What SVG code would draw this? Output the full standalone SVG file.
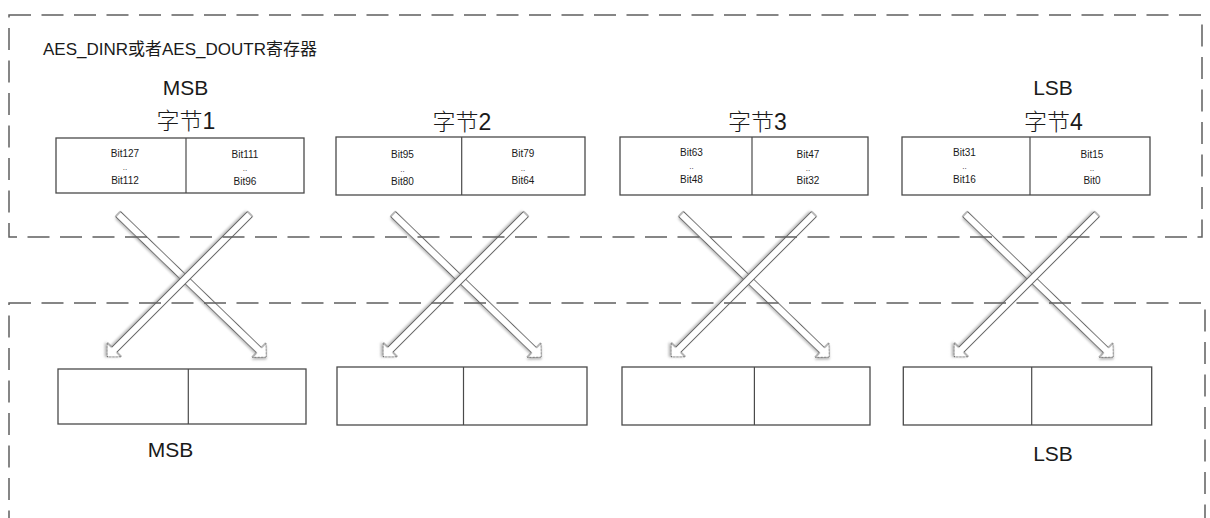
<svg xmlns="http://www.w3.org/2000/svg" xmlns:xlink="http://www.w3.org/1999/xlink" width="1210" height="518" viewBox="0 0 1210 518">
<style>
.bg{fill:#ffffff}
.dash{fill:none;stroke:#5f5f5f;stroke-width:1.5;stroke-dasharray:22 10.5}
.box{fill:#ffffff;stroke:#4a4a4a;stroke-width:1.3}
.div{stroke:#4a4a4a;stroke-width:1.2}
.t{font-family:"Liberation Sans","Noto Sans CJK SC",sans-serif;fill:#1a1a1a}
.cj{font-family:"Liberation Sans","Noto Sans CJK SC",sans-serif;fill:#1a1a1a;font-size:23px;font-weight:300;text-anchor:middle}
.big{font-size:21px;text-anchor:middle}
.bit{font-size:10px;text-anchor:middle}
.dd{font-size:8px;text-anchor:middle}
.arr{fill:#ffffff;stroke:#6a6a6a;stroke-width:1;filter:url(#sh)}
</style>
<defs>
<filter id="sh" x="-10%" y="-10%" width="130%" height="130%">
<feDropShadow dx="1.5" dy="1.5" stdDeviation="1" flood-color="#888888" flood-opacity="0.6"/>
</filter>
<path id="arrA" d="M0,-3.5H196V-10L206,0L196,10V3.5H0Z"/>
<path id="arrB" d="M0,-3.5H192V-10L202,0L192,10V3.5H0Z"/>
</defs>
<rect class="bg" x="0" y="0" width="1210" height="518"/>

<g id="connectors">
<use href="#arrA" class="arr" transform="translate(118,214) rotate(44)"/>
<use href="#arrB" class="arr" transform="translate(250,214) rotate(135)"/>
<use href="#arrA" class="arr" transform="translate(393,214) rotate(44)"/>
<use href="#arrB" class="arr" transform="translate(526,214) rotate(135)"/>
<use href="#arrA" class="arr" transform="translate(681,214) rotate(44)"/>
<use href="#arrB" class="arr" transform="translate(814,214) rotate(135)"/>
<use href="#arrA" class="arr" transform="translate(965,214) rotate(44)"/>
<use href="#arrB" class="arr" transform="translate(1097,214) rotate(135)"/>
</g>

<g id="container-register">
<rect class="dash" x="9" y="15" width="1193" height="222"/>
<text class="t" x="43" y="55" font-size="17">AES_DINR或者AES_DOUTR寄存器</text>
</g>
<g id="container-bottom">
<rect class="dash" x="9" y="303" width="1196" height="300"/>
</g>

<g id="byte1">
<text class="t big" x="185.5" y="95">MSB</text>
<text class="cj" x="186" y="129">字节1</text>
<rect class="box" x="56" y="138" width="248" height="55"/>
<line class="div" x1="186" y1="138" x2="186" y2="193"/>
<text class="t bit" x="125" y="157">Bit127</text>
<text class="t dd" x="125" y="170">..</text>
<text class="t bit" x="125" y="184">Bit112</text>
<text class="t bit" x="245" y="158">Bit111</text>
<text class="t dd" x="245" y="171">..</text>
<text class="t bit" x="245" y="185">Bit96</text>
</g>

<g id="byte2">
<text class="cj" x="462" y="130">字节2</text>
<rect class="box" x="336" y="137" width="249" height="58"/>
<line class="div" x1="461.7" y1="137" x2="461.7" y2="195"/>
<text class="t bit" x="402.5" y="158">Bit95</text>
<text class="t dd" x="402.5" y="171.5">..</text>
<text class="t bit" x="402.5" y="185">Bit80</text>
<text class="t bit" x="523" y="156.5">Bit79</text>
<text class="t dd" x="523" y="170.5">..</text>
<text class="t bit" x="523" y="183.5">Bit64</text>
</g>

<g id="byte3">
<text class="cj" x="757.5" y="130">字节3</text>
<rect class="box" x="620" y="137" width="248" height="58"/>
<line class="div" x1="752" y1="137" x2="752" y2="195"/>
<text class="t bit" x="691.5" y="156">Bit63</text>
<text class="t dd" x="691.5" y="169">..</text>
<text class="t bit" x="691.5" y="182.5">Bit48</text>
<text class="t bit" x="808" y="157.5">Bit47</text>
<text class="t dd" x="808" y="170.5">..</text>
<text class="t bit" x="808" y="184">Bit32</text>
</g>

<g id="byte4">
<text class="t big" x="1053" y="95">LSB</text>
<text class="cj" x="1053.5" y="130">字节4</text>
<rect class="box" x="902" y="137" width="248" height="58"/>
<line class="div" x1="1030" y1="137" x2="1030" y2="195"/>
<text class="t bit" x="964.5" y="156">Bit31</text>
<text class="t dd" x="964.5" y="168.5">..</text>
<text class="t bit" x="964.5" y="182.5">Bit16</text>
<text class="t bit" x="1092" y="157.5">Bit15</text>
<text class="t dd" x="1092" y="170.5">..</text>
<text class="t bit" x="1092" y="184">Bit0</text>
</g>

<g id="out1">
<rect class="box" x="58" y="369" width="248" height="55"/>
<line class="div" x1="188.3" y1="369" x2="188.3" y2="424"/>
<text class="t big" x="170.5" y="457">MSB</text>
</g>
<g id="out2">
<rect class="box" x="337" y="367" width="250" height="58"/>
<line class="div" x1="463.5" y1="367" x2="463.5" y2="425"/>
</g>
<g id="out3">
<rect class="box" x="622" y="367" width="248" height="58"/>
<line class="div" x1="754.4" y1="367" x2="754.4" y2="425"/>
</g>
<g id="out4">
<rect class="box" x="903.3" y="367" width="248.4" height="58"/>
<line class="div" x1="1031.7" y1="367" x2="1031.7" y2="425"/>
<text class="t big" x="1053" y="461">LSB</text>
</g>
</svg>
